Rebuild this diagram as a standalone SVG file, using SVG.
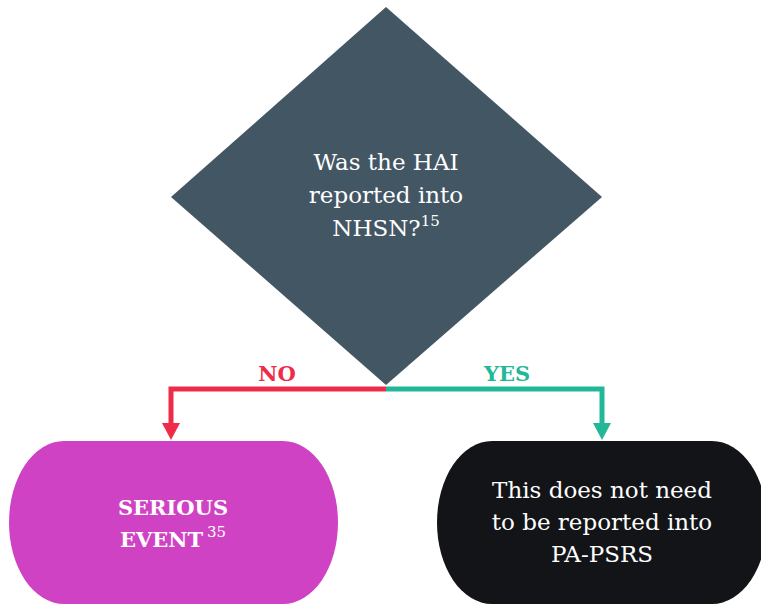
<svg xmlns="http://www.w3.org/2000/svg" width="761" height="605" viewBox="0 0 761 605">
<style>
.t{font-family:"DejaVu Serif",serif;fill:#ffffff;text-anchor:middle}
.lbl{font-family:"DejaVu Serif",serif;font-weight:bold;font-size:21px;text-anchor:middle}
.conn{fill:none;stroke-width:5;stroke-linejoin:miter}
</style>
<defs>
<marker id="aRed" viewBox="0 0 17 18" refX="0" refY="9" markerWidth="17" markerHeight="18" markerUnits="userSpaceOnUse" orient="auto"><path d="M0,0 L17,9 L0,18 z" fill="#EE2C4A"/></marker>
<marker id="aGreen" viewBox="0 0 17 18" refX="0" refY="9" markerWidth="17" markerHeight="18" markerUnits="userSpaceOnUse" orient="auto"><path d="M0,0 L17,9 L0,18 z" fill="#22B897"/></marker>
</defs>
<rect width="761" height="605" fill="#ffffff"/>
<g id="connectors">
<path class="conn" d="M386,389 H171 V423" stroke="#EE2C4A" marker-end="url(#aRed)"/>
<path class="conn" d="M386,389 H602 V423" stroke="#22B897" marker-end="url(#aGreen)"/>
<text class="lbl" x="277" y="381" fill="#EE2C4A">NO</text>
<text class="lbl" x="507" y="381" fill="#22B897">YES</text>
</g>
<g id="decision">
<polygon points="386,7 602,197 386,385 171,197" fill="#435664"/>
<text class="t" font-size="23"><tspan x="386" y="170">Was the HAI</tspan><tspan x="386" y="203">reported into</tspan><tspan x="386" y="236">NHSN?<tspan font-size="15" dy="-10">15</tspan></tspan></text>
</g>
<g id="serious-event">
<rect x="9" y="441" width="329" height="163" rx="55" ry="81.5" fill="#D042C4"/>
<text class="t" font-size="21" font-weight="bold"><tspan x="173" y="515">SERIOUS</tspan></text>
<text class="t" font-size="21" font-weight="bold" x="173" y="547">EVENT<tspan font-size="15" font-weight="normal" dx="4" dy="-10">35</tspan></text>
</g>
<g id="not-reported">
<rect x="437" y="441" width="330" height="163" rx="55" ry="81.5" fill="#131417"/>
<text class="t" font-size="23"><tspan x="602" y="498">This does not need</tspan><tspan x="602" y="530">to be reported into</tspan><tspan x="602" y="562">PA-PSRS</tspan></text>
</g>
</svg>
